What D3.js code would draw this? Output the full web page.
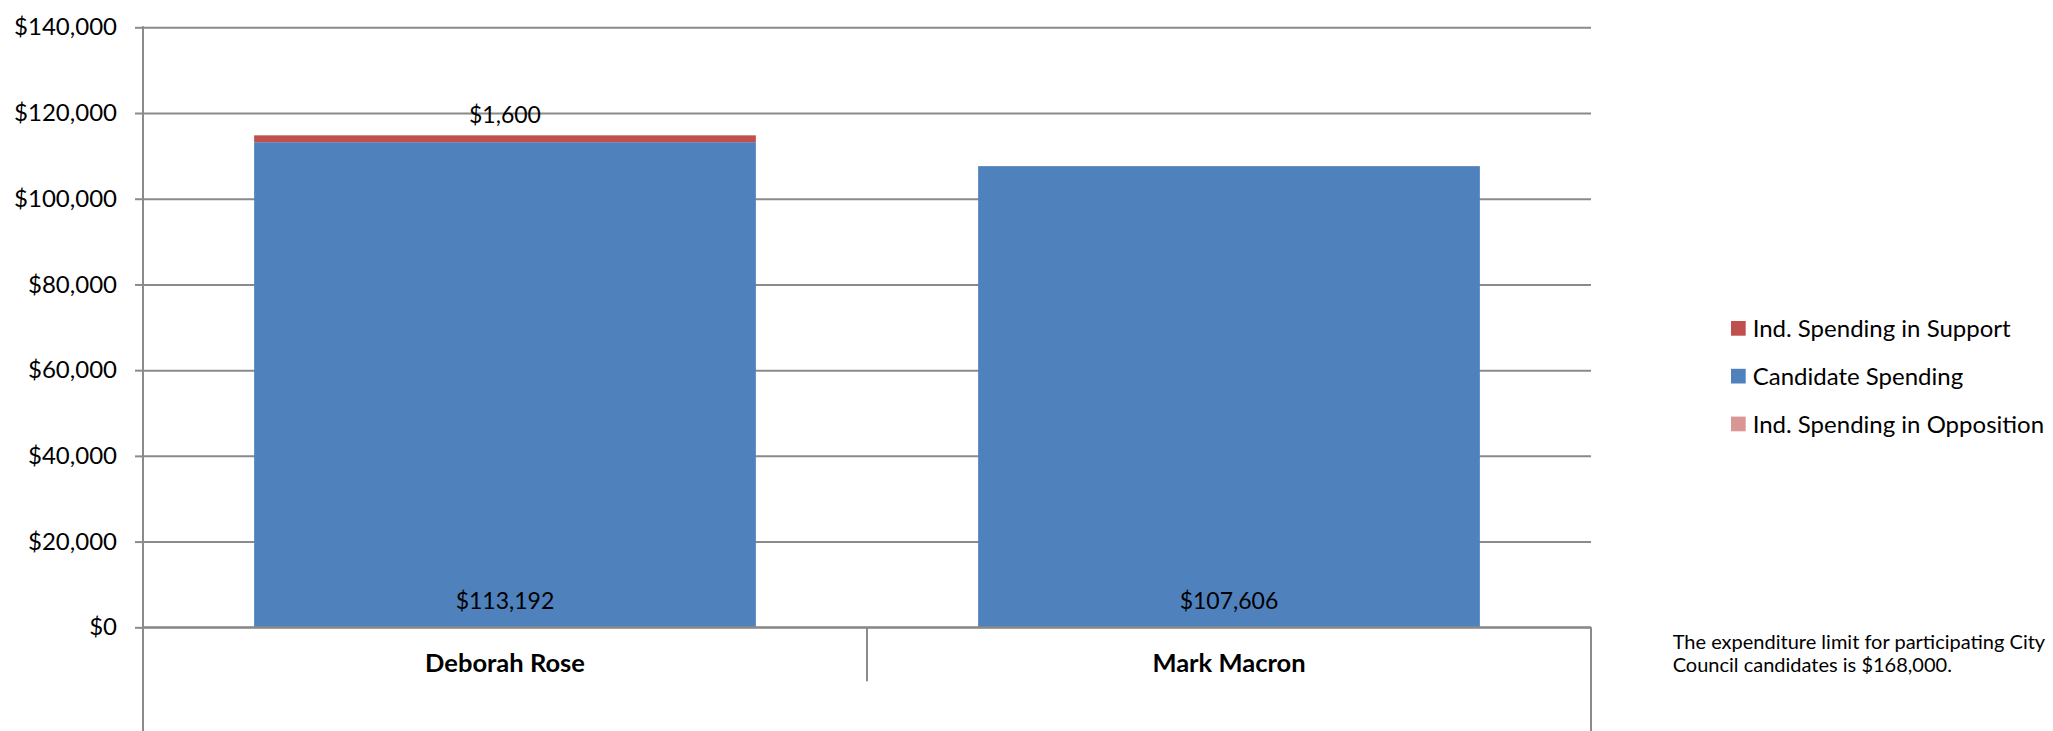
<!DOCTYPE html>
<html>
<head>
<meta charset="utf-8">
<script src="https://cdn.jsdelivr.net/npm/d3@7"></script>
<style>
  html, body { margin: 0; padding: 0; background: #fff; }
  svg { display: block; font-family: Lato, "Open Sans", sans-serif; }
</style>
</head>
<body>
<svg id="chart" width="2053" height="731"></svg>
<script>
// ---- data ----
const candidates = ["Deborah Rose", "Mark Macron"];
const candidateSpending = [113192, 107606];
const indSupport = [1600, 0];
const indOpposition = [0, 0];
const seriesNames = ["Ind. Spending in Support", "Candidate Spending", "Ind. Spending in Opposition"];
const seriesKeys = ["support", "candidate", "opposition"];
const yTicks = [0, 20000, 40000, 60000, 80000, 100000, 120000, 140000];
const noteLines = ["The expenditure limit for participating City", "Council candidates is $168,000."];

(function () {
// ---- layout ----
const W = 2053, H = 731;
const plotLeft = 143, plotRight = 1591, plotTop = 27.3, plotBase = 627.3;
const colors = { support: "#C0504D", candidate: "#4F81BD", opposition: "#D99694" };
const gridColor = "#8a8a8a";

const svg = d3.select("#chart");

const rows = candidates.map((c, i) => ({
  name: c,
  opposition: indOpposition[i],
  candidate: candidateSpending[i],
  support: indSupport[i]
}));

const x = d3.scaleBand().domain(candidates).range([plotLeft, plotRight])
  .paddingInner(0.307).paddingOuter(0.1535);
const y = d3.scaleLinear().domain([0, d3.max(yTicks)]).range([plotBase, plotTop]);

// gridlines
svg.append("g")
  .attr("transform", `translate(${plotLeft},0)`)
  .call(d3.axisLeft(y).tickValues(yTicks).tickSize(-(plotRight - plotLeft)).tickFormat(""))
  .call(g => g.select(".domain").remove())
  .call(g => g.selectAll("line").attr("stroke", gridColor).attr("stroke-width", 2));

// stacked bars (bottom-up: opposition, candidate, support)
const stack = d3.stack().keys(["opposition", "candidate", "support"]);
const layers = stack(rows);
svg.append("g").selectAll("g").data(layers).join("g")
  .attr("fill", d => colors[d.key])
  .selectAll("rect").data(d => d).join("rect")
  .attr("x", d => x(d.data.name))
  .attr("width", x.bandwidth())
  .attr("y", d => y(d[1]))
  .attr("height", d => Math.max(0, y(d[0]) - y(d[1])));

// y axis
const yAxis = svg.append("g")
  .attr("transform", `translate(${plotLeft},0)`)
  .call(d3.axisLeft(y).tickValues(yTicks).tickSize(8).tickPadding(18).tickFormat(d3.format("$,")));
yAxis.select(".domain").remove();
yAxis.selectAll("line").attr("stroke", gridColor).attr("stroke-width", 2);
yAxis.selectAll("text").attr("font-size", 24).attr("fill", "#000").attr("font-family", "Lato");

// axis frame lines
svg.append("line").attr("x1", plotLeft).attr("x2", plotLeft).attr("y1", plotTop - 1).attr("y2", H)
  .attr("stroke", gridColor).attr("stroke-width", 2);
svg.append("line").attr("x1", plotLeft).attr("x2", plotRight).attr("y1", plotBase).attr("y2", plotBase)
  .attr("stroke", gridColor).attr("stroke-width", 2);
svg.append("line").attr("x1", plotRight).attr("x2", plotRight).attr("y1", plotBase).attr("y2", H)
  .attr("stroke", gridColor).attr("stroke-width", 2);
// category divider
svg.append("g").selectAll("line").data(candidates.slice(1)).join("line")
  .attr("x1", d => x(d) - x.step() * x.paddingInner() / 2)
  .attr("x2", d => x(d) - x.step() * x.paddingInner() / 2)
  .attr("y1", plotBase).attr("y2", plotBase + 54)
  .attr("stroke", gridColor).attr("stroke-width", 2);

// category labels
svg.append("g").selectAll("text").data(candidates).join("text")
  .attr("x", d => x(d) + x.bandwidth() / 2)
  .attr("y", plotBase + 44.5)
  .attr("text-anchor", "middle")
  .attr("font-size", 25.5).attr("font-weight", "bold")
  .text(d => d);

// data labels: candidate spending inside base
const fmt = d3.format("$,");
svg.append("g").selectAll("text").data(rows).join("text")
  .attr("x", d => x(d.name) + x.bandwidth() / 2)
  .attr("y", plotBase - 18)
  .attr("text-anchor", "middle").attr("font-size", 23)
  .text(d => fmt(d.candidate));

// support labels above
svg.append("g").selectAll("text").data(rows.filter(d => d.support > 0)).join("text")
  .attr("x", d => x(d.name) + x.bandwidth() / 2)
  .attr("y", d => y(d.candidate + d.support) - 12)
  .attr("text-anchor", "middle").attr("font-size", 23)
  .text(d => fmt(d.support));

// legend
const lg = svg.append("g").attr("transform", "translate(1731,321)");
const li = lg.selectAll("g").data(seriesKeys).join("g")
  .attr("transform", (d, i) => `translate(0,${i * 47.8})`);
li.append("rect").attr("width", 14.7).attr("height", 14.7).attr("fill", d => colors[d]);
li.append("text").attr("x", 21.7).attr("y", 7.5).attr("dy", "0.35em")
  .attr("font-size", 24).text((d, i) => seriesNames[i]);

// note
svg.append("g").selectAll("text").data(noteLines).join("text")
  .attr("x", 1672.7).attr("y", (d, i) => 649 + i * 23.4)
  .attr("font-size", 20).text(d => d);
})();
</script>
</body>
</html>
